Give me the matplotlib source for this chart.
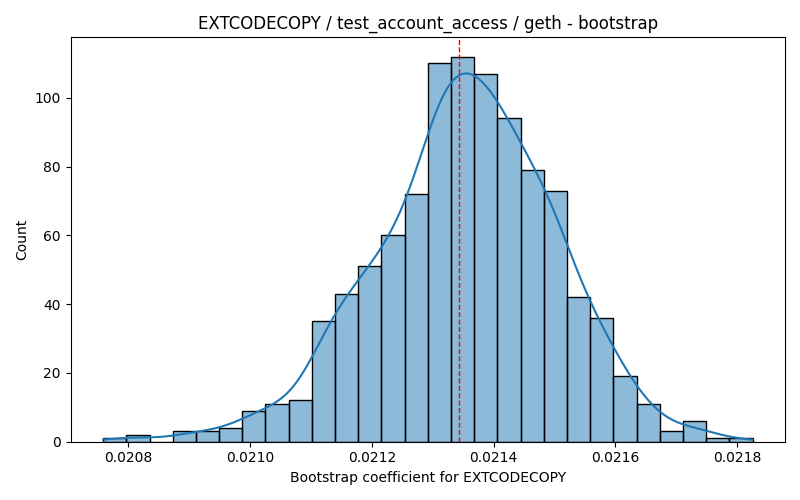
import matplotlib

matplotlib.use("Agg")
import matplotlib.pyplot as plt
import numpy as np
import pandas as pd
import seaborn as sns

# bootstrap histogram
bin_lo = 0.020759
bin_hi = 0.021825
counts = [1, 2, 0, 3, 3, 4, 9, 11, 12, 35, 43, 51, 60, 72,
          110, 112, 107, 94, 79, 73, 42, 36, 19, 11, 3, 6, 1, 1]
point_estimate = 0.021343

opcode = "EXTCODECOPY"
test_name = "test_account_access"
client = "geth"

edges = np.linspace(bin_lo, bin_hi, len(counts) + 1)
df = pd.DataFrame({
    "coef": (edges[:-1] + edges[1:]) / 2,
    "n": counts,
})

# gaussian kde of the binned samples (scott bandwidth on the full n),
# scaled to counts like seaborn does, over the data range
w = np.asarray(counts, dtype=float)
n = w.sum()
mean = np.average(df["coef"], weights=w)
std = np.sqrt(np.average((df["coef"] - mean) ** 2, weights=w))
bw = std * n ** -0.2
grid = np.linspace(bin_lo, bin_hi, 200)
dens = (w[None, :] * np.exp(-0.5 * ((grid[:, None] - df["coef"].values[None, :]) / bw) ** 2)).sum(axis=1)
dens /= n * bw * np.sqrt(2 * np.pi)
kde_counts = dens * n * (edges[1] - edges[0])

fig, ax = plt.subplots(figsize=(8, 5))
sns.histplot(data=df, x="coef", weights="n", bins=len(counts),
             binrange=(bin_lo, bin_hi), alpha=0.5, ax=ax)
ax.plot(grid, kde_counts, color="C0", linewidth=1.5)
ax.axvline(point_estimate, color="red", linestyle="--", linewidth=1)
ax.set_title(f"{opcode} / {test_name} / {client} - bootstrap")
ax.set_xlabel(f"Bootstrap coefficient for {opcode}")
ax.set_ylabel("Count")
plt.tight_layout()
plt.savefig("out.png", dpi=100)
plt.close()
